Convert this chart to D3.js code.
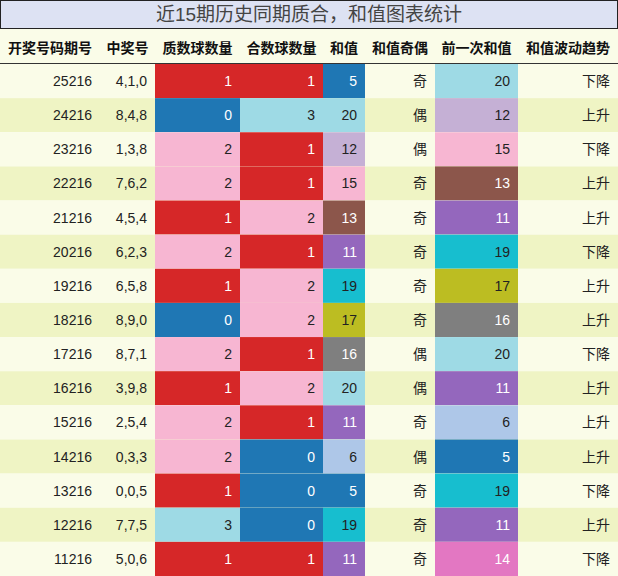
<!DOCTYPE html>
<head>
<meta charset="utf-8">
<script src="https://cdn.jsdelivr.net/npm/d3@7"></script>
<style>body{margin:0;background:#fff}</style>
</head>
<body>
<div id="container"></div>
<script>
const title = "近15期历史同期质合，和值图表统计";
const headers = ["开奖号码期号", "中奖号", "质数球数量", "合数球数量", "和值", "和值奇偶", "前一次和值", "和值波动趋势"];
const periods = ["25216","24216","23216","22216","21216","20216","19216","18216","17216","16216","15216","14216","13216","12216","11216"];
const numbers = ["4,1,0","8,4,8","1,3,8","7,6,2","4,5,4","6,2,3","6,5,8","8,9,0","8,7,1","3,9,8","2,5,4","0,3,3","0,0,5","7,7,5","5,0,6"];
const primeCount = [1,0,2,2,1,2,1,0,2,1,2,2,1,3,1];
const compCount = [1,3,1,1,2,1,2,2,1,2,1,0,0,0,1];
const sums = [5,20,12,15,13,11,19,17,16,20,11,6,5,19,11];
const parity = ["奇","偶","偶","奇","奇","奇","奇","奇","偶","偶","奇","偶","奇","奇","奇"];
const prevSums = [20,12,15,13,11,19,17,16,20,11,6,5,19,11,14];
const trend = ["下降","上升","下降","上升","上升","下降","上升","上升","下降","上升","上升","上升","下降","上升","下降"];

// colours used per value
const countColor = {0:"#1f77b4", 1:"#d62728", 2:"#f7b6d2", 3:"#9edae5"};
const sumColor = {5:"#1f77b4", 6:"#aec7e8", 11:"#9467bd", 12:"#c5b0d5", 13:"#8c564b", 14:"#e377c2",
  15:"#f7b6d2", 16:"#7f7f7f", 17:"#bcbd22", 19:"#17becf", 20:"#9edae5"};
const darkBg = new Set(["#1f77b4","#d62728","#9467bd","#8c564b","#7f7f7f","#e377c2"]);

const W = 618, H = 576;
const colEdges = [0, 100, 155, 240, 323, 365, 435, 518, 618];
const x = d3.scaleOrdinal().domain(d3.range(8)).range(colEdges.slice(0, 8));
const cw = i => colEdges[i + 1] - colEdges[i];
const rowTop = 64;
const y = d3.scaleBand().domain(d3.range(15)).range([rowTop, H]);
const font = "'Liberation Sans', 'Noto Sans CJK SC', sans-serif";

const svg = d3.select("#container").append("svg").attr("width", W).attr("height", H)
  .style("font-family", font);

svg.append("rect").attr("x", 0.5).attr("y", 0.5).attr("width", W - 1).attr("height", 28)
  .attr("fill", "#dde2f3").attr("stroke", "#222");
svg.append("text").attr("x", W / 2).attr("y", 21).attr("text-anchor", "middle")
  .style("font-size", "19px").attr("fill", "#444").text(title);

svg.append("rect").attr("x", 0).attr("y", 29).attr("width", W).attr("height", rowTop - 29).attr("fill", "#fafce8");
svg.selectAll(".hd").data(headers).join("text")
  .attr("x", (d, i) => x(i) + cw(i) / 2).attr("y", 53).attr("text-anchor", "middle")
  .style("font-size", "14px").style("font-weight", "bold").attr("fill", "#111").text(d => d);
svg.append("line").attr("x1", 0).attr("x2", W).attr("y1", rowTop - 0.5).attr("y2", rowTop - 0.5).attr("stroke", "#333");

const rows = d3.range(15).map(i => [
  {v: periods[i]}, {v: numbers[i]},
  {v: primeCount[i], c: countColor[primeCount[i]]},
  {v: compCount[i], c: countColor[compCount[i]]},
  {v: sums[i], c: sumColor[sums[i]]},
  {v: parity[i]},
  {v: prevSums[i], c: sumColor[prevSums[i]]},
  {v: trend[i]}
].map((d, j) => ({...d, j})));

const g = svg.selectAll(".row").data(rows).join("g").attr("transform", (d, i) => `translate(0,${y(i)})`);
g.append("rect").attr("width", W).attr("height", y.bandwidth())
  .attr("fill", (d, i) => i % 2 ? "#eff4c4" : "#fafce8");
const cells = g.selectAll(".cell").data(d => d).join("g").attr("transform", d => `translate(${x(d.j)},0)`);
cells.filter(d => d.c).append("rect").attr("width", d => cw(d.j)).attr("height", y.bandwidth()).attr("fill", d => d.c);
cells.append("text").attr("x", d => cw(d.j) - 8).attr("y", y.bandwidth() / 2 + 5)
  .attr("text-anchor", "end").style("font-size", "14px")
  .attr("fill", d => d.c && darkBg.has(d.c) ? "#fff" : "#222").text(d => d.v);
</script>
</body>
